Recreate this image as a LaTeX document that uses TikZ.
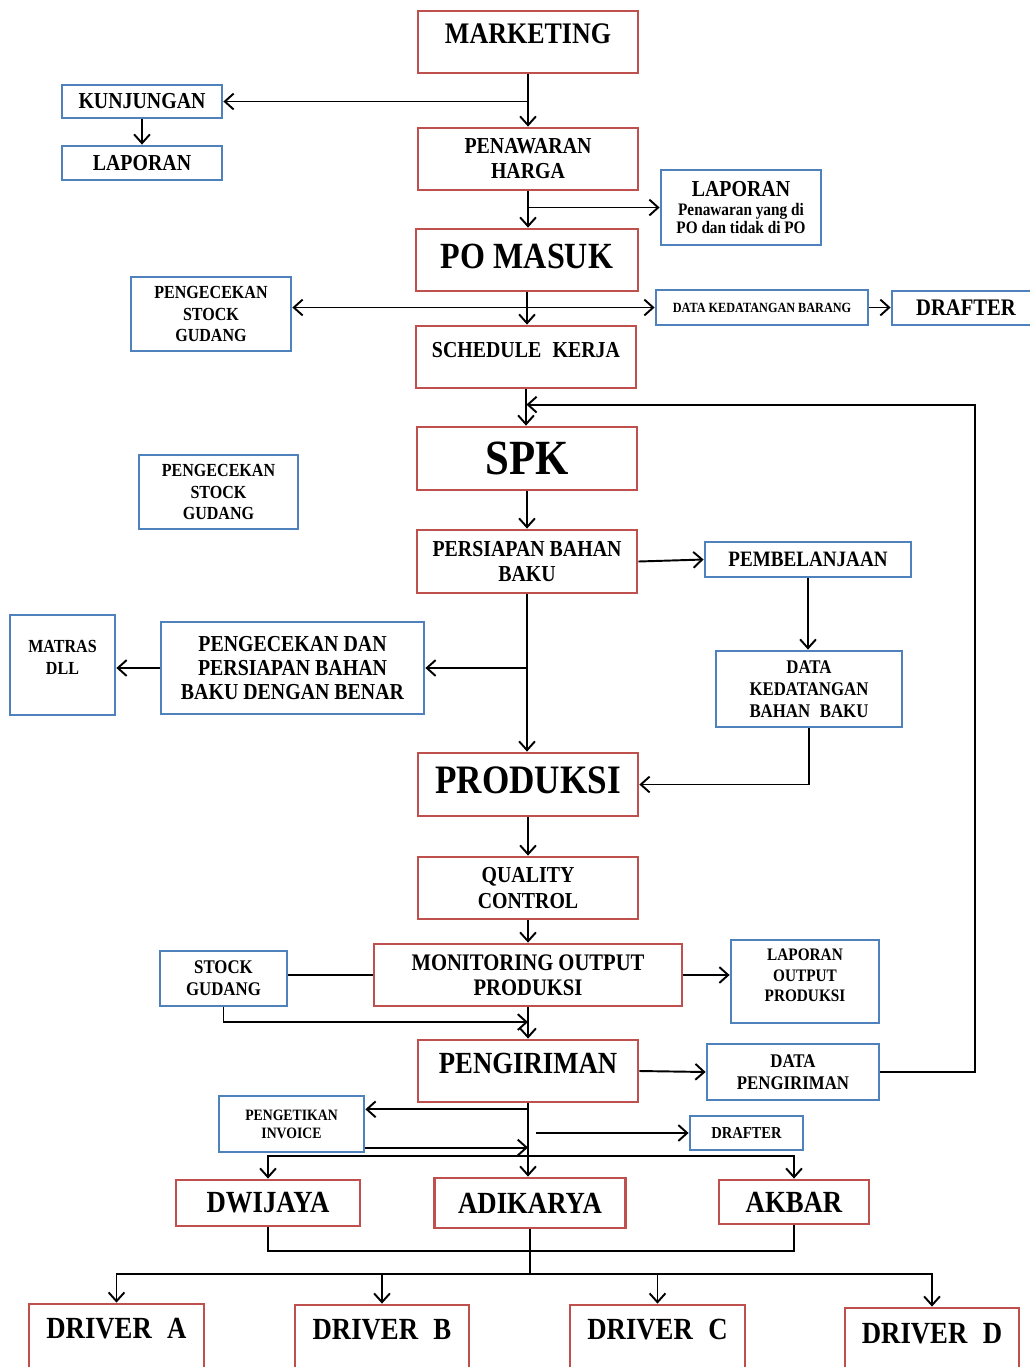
\documentclass[tikz,border=0pt]{standalone}
\usepackage{fontspec}
\setmainfont{Liberation Serif}[FakeStretch=0.87]
\usetikzlibrary{calc,arrows.meta}
\definecolor{boxred}{RGB}{192,80,77}
\definecolor{boxblue}{RGB}{79,129,189}
\tikzset{>={Straight Barb[length=5pt,width=9pt]}}
\newcommand{\fsz}[2]{\bfseries\fontsize{#1}{#2}\selectfont}

\begin{document}
\begin{tikzpicture}[x=0.02cm,y=-0.02cm,line width=1.1pt,
    rbox/.style={draw=boxred,line width=1.6pt,align=center,inner sep=0pt},
    bbox/.style={draw=boxblue,line width=1.6pt,align=center,inner sep=0pt}]
  \useasboundingbox (0,0) rectangle (1030,1367);
  % main column
  \node[rbox,minimum width=4.4cm,minimum height=1.24cm,text depth=0.32cm,font=\fsz{17}{19}] (mkt) at (528,42) {MARKETING};
  \node[rbox,minimum width=4.4cm,minimum height=1.24cm,font=\fsz{13}{14.3}] (pen) at (528,159) {PENAWARAN\\HARGA};
  \node[rbox,minimum width=4.44cm,minimum height=1.24cm,text depth=0.16cm,font=\fsz{21}{23}] (po) at (527,260) {PO MASUK};
  \node[rbox,minimum width=4.4cm,minimum height=1.24cm,text depth=0.28cm,font=\fsz{13}{14.3}] (sched) at (526,357) {SCHEDULE\enspace KERJA};
  \node[rbox,minimum width=4.4cm,minimum height=1.26cm,font=\fsz{28}{30}] (spk) at (527,458.5) {SPK};
  \node[rbox,minimum width=4.4cm,minimum height=1.26cm,font=\fsz{13}{14.3}] (pers) at (527,561.5) {PERSIAPAN BAHAN\\BAKU};
  \node[rbox,minimum width=4.4cm,minimum height=1.26cm,text depth=0.18cm,font=\fsz{23}{25}] (prod) at (528,784.5) {PRODUKSI};
  \node[rbox,minimum width=4.4cm,minimum height=1.24cm,font=\fsz{13}{14.3}] (qc) at (528,888) {QUALITY\\CONTROL};
  \node[rbox,minimum width=6.16cm,minimum height=1.24cm,font=\fsz{13.5}{14.3}] (mon) at (528,975) {MONITORING OUTPUT\\PRODUKSI};
  \node[rbox,minimum width=4.4cm,minimum height=1.24cm,text depth=0.32cm,font=\fsz{17.5}{19}] (peng) at (528,1071) {PENGIRIMAN};
  % ekspedisi
  \node[rbox,minimum width=3.68cm,minimum height=0.92cm,font=\fsz{17.5}{19}] (dwi) at (268,1203) {DWIJAYA};
  \node[rbox,minimum width=3.82cm,minimum height=1.0cm,font=\fsz{17.5}{19}] (adi) at (530,1203) {ADIKARYA};
  \node[rbox,minimum width=3.0cm,minimum height=0.88cm,font=\fsz{17.5}{19}] (akb) at (794,1202) {AKBAR};
  % drivers
  \node[rbox,minimum width=3.5cm,minimum height=1.92cm,text depth=0.96cm,font=\fsz{17.5}{20}] (drva) at (116.5,1352) {DRIVER\enspace A};
  \node[rbox,minimum width=3.48cm,minimum height=1.92cm,text depth=0.96cm,font=\fsz{17.5}{20}] (drvb) at (382,1353) {DRIVER\enspace B};
  \node[rbox,minimum width=3.5cm,minimum height=1.92cm,text depth=0.96cm,font=\fsz{17.5}{20}] (drvc) at (657.5,1353) {DRIVER\enspace C};
  \node[rbox,minimum width=3.48cm,minimum height=1.92cm,text depth=0.92cm,font=\fsz{17.5}{20}] (drvd) at (932,1356) {DRIVER\enspace D};
  % side boxes
  \node[bbox,minimum width=3.2cm,minimum height=0.66cm,font=\fsz{13}{14}] (kunj) at (142,101.5) {KUNJUNGAN};
  \node[bbox,minimum width=3.2cm,minimum height=0.68cm,font=\fsz{13}{14}] (lap1) at (142,163) {LAPORAN};
  \node[bbox,minimum width=3.2cm,minimum height=1.5cm,font=\fsz{10}{10.2}] (lap2) at (741,207.5)
    {{\fsz{13}{13}LAPORAN}\\[1pt]Penawaran yang di\\PO dan tidak di PO};
  \node[bbox,minimum width=3.2cm,minimum height=1.48cm,font=\fsz{10.5}{12.5}] (cek1) at (211,314) {PENGECEKAN\\STOCK\\GUDANG};
  \node[bbox,minimum width=4.24cm,minimum height=0.7cm,font=\fsz{8}{9}] (dkb) at (762,307.5) {DATA KEDATANGAN BARANG};
  \node[bbox,minimum width=2.96cm,minimum height=0.68cm,font=\fsz{13.5}{14}] (draft1) at (966,308) {DRAFTER};
  \node[bbox,minimum width=3.18cm,minimum height=1.48cm,font=\fsz{10.5}{12.5}] (cek2) at (218.5,492) {PENGECEKAN\\STOCK\\GUDANG};
  \node[bbox,minimum width=4.12cm,minimum height=0.7cm,font=\fsz{12.5}{14}] (pemb) at (808,559.5) {PEMBELANJAAN};
  \node[bbox,minimum width=2.1cm,minimum height=2.0cm,text depth=0.32cm,font=\fsz{10.5}{12.5}] (matras) at (62.5,665) {MATRAS\\DLL};
  \node[bbox,minimum width=5.26cm,minimum height=1.84cm,font=\fsz{13}{13.9}] (cekd) at (292.5,668) {PENGECEKAN DAN\\PERSIAPAN BAHAN\\BAKU DENGAN BENAR};
  \node[bbox,minimum width=3.72cm,minimum height=1.52cm,font=\fsz{11}{12.5}] (dkbb) at (809,689) {DATA\\KEDATANGAN\\BAHAN\enspace BAKU};
  \node[bbox,minimum width=2.54cm,minimum height=1.1cm,font=\fsz{11}{12.5}] (stock) at (223.5,978.5) {STOCK\\GUDANG};
  \node[bbox,minimum width=2.96cm,minimum height=1.66cm,text depth=0.24cm,font=\fsz{10}{11.6}] (lapout) at (805,981.5) {LAPORAN\\OUTPUT\\PRODUKSI};
  \node[bbox,minimum width=3.44cm,minimum height=1.12cm,font=\fsz{11}{12.5}] (dpeng) at (793,1072) {DATA\\PENGIRIMAN};
  \node[bbox,minimum width=2.9cm,minimum height=1.12cm,font=\fsz{9}{10.2}] (inv) at (291.5,1124) {PENGETIKAN\\INVOICE};
  \node[bbox,minimum width=2.26cm,minimum height=0.68cm,font=\fsz{9.5}{10}] (draft2) at (746.5,1133) {DRAFTER};

  % alur utama
  \draw[->] (mkt.south) -- (pen.north);
  \draw[->] (mkt.south |- kunj.east) -- (kunj.east);
  \draw[->] (kunj.south) -- (lap1.north);
  \draw[->] (pen.south) -- (pen.south |- po.north);
  \draw[->] (pen.south |- lap2.west) -- (lap2.west);
  \draw[->] (po.south) -- (po.south |- sched.north);
  \draw[<->] (cek1.east |- dkb.west) -- (dkb.west);
  \draw[->] (dkb.east) -- (dkb.east -| draft1.west);
  \draw[->] (sched.south) -- (sched.south |- spk.north);
  \draw[->] (dpeng.east) -- ++(95,0) |- ($(sched.south)!0.42!(spk.north)$);
  \draw[->] (spk.south) -- (pers.north);
  \draw[->] (pers.east) -- (pemb.west);
  \draw[->] (pemb.south) -- (pemb.south |- dkbb.north);
  \draw[->] (dkbb.south) |- (prod.east);
  \draw[->] (pers.south) -- (pers.south |- prod.north);
  \draw[->] (pers.south |- cekd.east) -- (cekd.east);
  \draw[->] (cekd.west) -- (matras.east |- cekd.west);
  \draw[->] (prod.south) -- (qc.north);
  \draw[->] (qc.south) -- (mon.north);
  \draw (stock.east |- mon.west) -- (mon.west);
  \draw[->] (mon.east) -- (lapout.west |- mon.east);
  \draw[->] (mon.south) -- (peng.north);
  \draw[->] (stock.south) |- ($(mon.south)!0.47!(peng.north)$);
  \draw[->] (peng.east) -- (dpeng.west);
  % pengiriman ke ekspedisi
  \coordinate (invin) at ($(inv.north east)!0.25!(inv.south east)$);
  \coordinate (invout) at ($(inv.north east)!0.9!(inv.south east)$);
  \coordinate (split) at ($(peng.south)!0.72!(adi.north)$);
  \draw[->] (peng.south) -- (peng.south |- adi.north);
  \draw[->] (peng.south |- invin) -- (invin);
  \draw[->] (invout) -- (peng.south |- invout);
  \draw[->] ($(peng.south |- draft2.west)+(8,0)$) -- (draft2.west);
  \draw[->] (split) -| (dwi.north);
  \draw[->] (split) -| (akb.north);
  % ke driver
  \draw (dwi.south) -- ++(0,24) -| (akb.south);
  \draw (adi.south) -- ++(0,45) coordinate (bus);
  \draw[->] (bus) -| (drva.north);
  \draw[->] (bus) -| (drvb.north);
  \draw[->] (bus) -| (drvc.north);
  \draw[->] (bus) -| (drvd.north);
\end{tikzpicture}
\end{document}
